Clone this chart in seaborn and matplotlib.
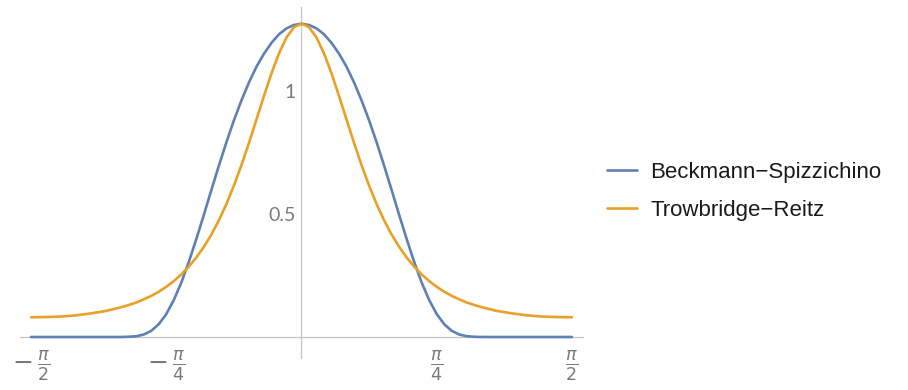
import numpy as np
import pandas as pd
import matplotlib
matplotlib.use("Agg")
import matplotlib.pyplot as plt
import seaborn as sns

# angle (degrees) at which values were read
angle_deg = [-90, -85, -80, -75, -70, -65, -60, -57.5, -55, -52.5, -50, -47.5, -45,
             -42.5, -40, -37.5, -35, -32.5, -30, -27.5, -25, -22.5, -20, -17.5, -15,
             -12.5, -10, -7.5, -5, -2.5, 0, 2.5, 5, 7.5, 10, 12.5, 15, 17.5, 20, 22.5,
             25, 27.5, 30, 32.5, 35, 37.5, 40, 42.5, 45, 47.5, 50, 52.5, 55, 57.5, 60,
             65, 70, 75, 80, 85, 90]

beckmann = [0.000, 0.000, 0.000, 0.000, 0.000, 0.000, 0.000, 0.001, 0.003, 0.010, 0.025,
            0.052, 0.093, 0.150, 0.221, 0.305, 0.398, 0.496, 0.597, 0.696, 0.791, 0.880,
            0.961, 1.034, 1.098, 1.151, 1.195, 1.230, 1.254, 1.268, 1.273, 1.268, 1.254,
            1.230, 1.195, 1.151, 1.098, 1.034, 0.961, 0.880, 0.791, 0.696, 0.597, 0.496,
            0.398, 0.305, 0.221, 0.150, 0.093, 0.052, 0.025, 0.010, 0.003, 0.001, 0.000,
            0.000, 0.000, 0.000, 0.000, 0.000, 0.000]

trowbridge = [0.080, 0.081, 0.083, 0.088, 0.096, 0.106, 0.121, 0.130, 0.140, 0.153, 0.167,
              0.184, 0.204, 0.227, 0.254, 0.286, 0.323, 0.366, 0.416, 0.474, 0.540, 0.615,
              0.698, 0.788, 0.883, 0.979, 1.071, 1.152, 1.217, 1.259, 1.273, 1.259, 1.217,
              1.152, 1.071, 0.979, 0.883, 0.788, 0.698, 0.615, 0.540, 0.474, 0.416, 0.366,
              0.323, 0.286, 0.254, 0.227, 0.204, 0.184, 0.167, 0.153, 0.140, 0.130, 0.121,
              0.106, 0.096, 0.088, 0.083, 0.081, 0.080]

series_names = ["Beckmann\u2212Spizzichino", "Trowbridge\u2212Reitz"]
colors = ["#5E81B5", "#E8A026"]

x_ticks = [-np.pi / 2, -np.pi / 4, np.pi / 4, np.pi / 2]
x_tick_labels = [r"$-\,\frac{\pi}{2}$", r"$-\,\frac{\pi}{4}$", r"$\frac{\pi}{4}$", r"$\frac{\pi}{2}$"]
y_ticks = [0.5, 1.0]
y_tick_labels = ["0.5", "1"]

theta = np.deg2rad(angle_deg)
df = pd.concat([
    pd.DataFrame({"theta": theta, "D": beckmann, "model": series_names[0]}),
    pd.DataFrame({"theta": theta, "D": trowbridge, "model": series_names[1]}),
])

sns.set_theme(style="white")
plt.rcParams["font.family"] = ["Liberation Sans", "DejaVu Sans"]
plt.rcParams["mathtext.fontset"] = "dejavusans"

fig = plt.figure(figsize=(9.08, 3.9), dpi=100)
ax = fig.add_axes([20 / 908, 1 - 358 / 390, 563 / 908, 351 / 390])

sns.lineplot(data=df, x="theta", y="D", hue="model", palette=colors,
             estimator=None, sort=True, linewidth=1.9, ax=ax, legend=False, zorder=3)

ax.set_xlim(-1.635, 1.635)
ax.set_ylim(-0.0854, 1.341)
ax.set_xlabel("")
ax.set_ylabel("")

axis_color = "#c4c4c4"
for side in ["top", "right"]:
    ax.spines[side].set_visible(False)
for side in ["left", "bottom"]:
    ax.spines[side].set_position(("data", 0))
    ax.spines[side].set_color(axis_color)
    ax.spines[side].set_linewidth(0.9)

ax.set_xticks(x_ticks)
ax.set_xticklabels(x_tick_labels, fontsize=18, color="#7a7a7a")
ax.set_yticks(y_ticks)
ax.set_yticklabels(y_tick_labels, fontsize=14, color="#7a7a7a", family=["Lato", "DejaVu Sans"])
ax.tick_params(axis="both", direction="in", color=axis_color, width=0.9)
ax.tick_params(axis="x", length=4.5, pad=8)
ax.tick_params(axis="y", length=3.5, pad=4)
ax.grid(False)
ax.patch.set_alpha(0)

handles = [plt.Line2D([], [], color=c, linewidth=1.9) for c in colors]
fig.legend(handles, series_names, loc="center left",
           bbox_to_anchor=(607 / 908, 1 - 191.5 / 390), frameon=False,
           fontsize=16, handlelength=1.36, handletextpad=0.6, labelspacing=0.75,
           borderpad=0, borderaxespad=0, labelcolor="#1a1a1a")

fig.savefig("out.png", dpi=100)
